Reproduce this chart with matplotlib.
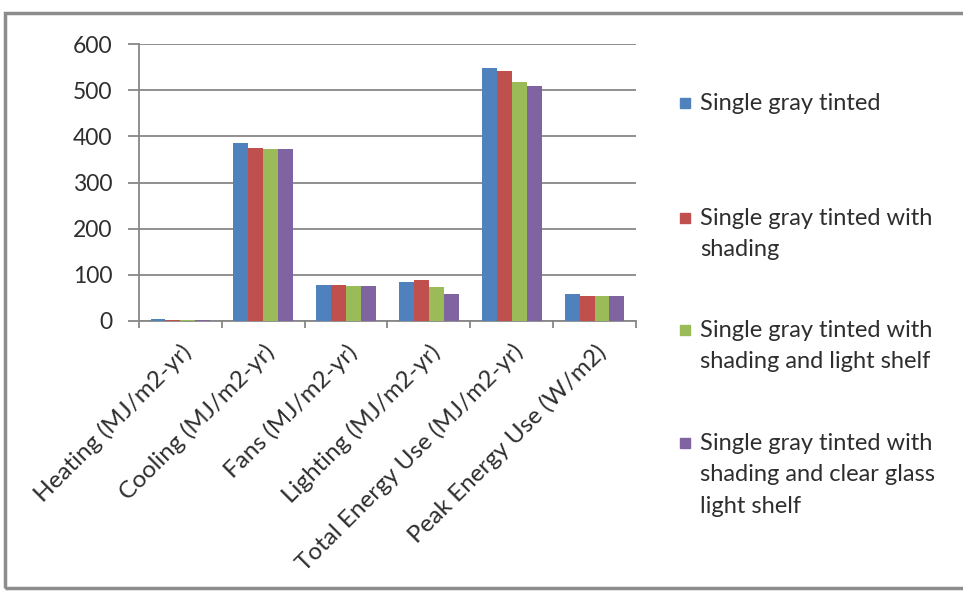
import matplotlib.pyplot as plt
import numpy as np
from matplotlib.patches import Rectangle

plt.rcParams['font.family'] = ['Lato', 'DejaVu Sans']

categories = ['Heating (MJ/m2-yr)', 'Cooling (MJ/m2-yr)', 'Fans (MJ/m2-yr)',
              'Lighting (MJ/m2-yr)', 'Total Energy Use (MJ/m2-yr)', 'Peak Energy Use (W/m2)']
series_names = ['Single gray tinted',
                'Single gray tinted with\nshading',
                'Single gray tinted with\nshading and light shelf',
                'Single gray tinted with\nshading and clear glass\nlight shelf']
gray_tinted = [4, 386, 78, 85, 547, 58]
with_shading = [3, 375, 78, 89, 542, 55]
with_light_shelf = [3, 372, 76, 73, 518, 55]
with_clear_shelf = [3, 372, 75, 58, 509, 55]
colors = ['#4F81BD', '#C0504D', '#9BBB59', '#8064A2']

values = [gray_tinted, with_shading, with_light_shelf, with_clear_shelf]
text_color = '#2e2e2e'

fig = plt.figure(figsize=(9.63, 5.94), dpi=100)
fig.patches.append(Rectangle((0.005, 0.01), 1.2, 0.968, transform=fig.transFigure,
                             fill=False, edgecolor='#8c8c8c', linewidth=2.5))
ax = fig.add_axes([0.1443, 0.4596, 0.5161, 0.4663])

x = np.arange(len(categories))
w = 0.18
for i, (vals, c) in enumerate(zip(values, colors)):
    ax.bar(x + (i - 1.5) * w, vals, w, color=c, zorder=3)

ax.set_xlim(-0.5, len(categories) - 0.5)
ax.set_ylim(0, 600)
ax.set_yticks(range(0, 601, 100))
ax.yaxis.grid(True, color='#878787', linewidth=1.3, zorder=0)
ax.set_axisbelow(True)
for s in ['top', 'right']:
    ax.spines[s].set_visible(False)
for s in ['left', 'bottom']:
    ax.spines[s].set_color('#878787')
    ax.spines[s].set_linewidth(1.3)
ax.tick_params(axis='y', length=8, color='#878787', width=1.3, labelsize=16.5,
               labelcolor=text_color, pad=11)
ax.set_xticks(np.arange(len(categories) + 1) - 0.5, minor=True)
ax.set_xticks(x)
ax.tick_params(axis='x', which='minor', length=5, color='#878787', width=1.3)
ax.tick_params(axis='x', which='major', length=0, labelsize=17.5, labelcolor=text_color, pad=14)
ax.set_xticklabels(categories, rotation=45, ha='right', rotation_mode='anchor')

# legend drawn by hand so that each swatch sits on the first line of its label
legend_y = [0.8266, 0.633, 0.4444, 0.2542]
for name, c, ly in zip(series_names, colors, legend_y):
    fig.patches.append(Rectangle((0.706, ly - 0.009), 0.0105, 0.017,
                                 transform=fig.transFigure, color=c))
    fig.text(0.727, ly + 0.017, name, fontsize=17, color=text_color,
             va='top', ha='left', linespacing=1.61)

fig.savefig('out.png', dpi=100)
